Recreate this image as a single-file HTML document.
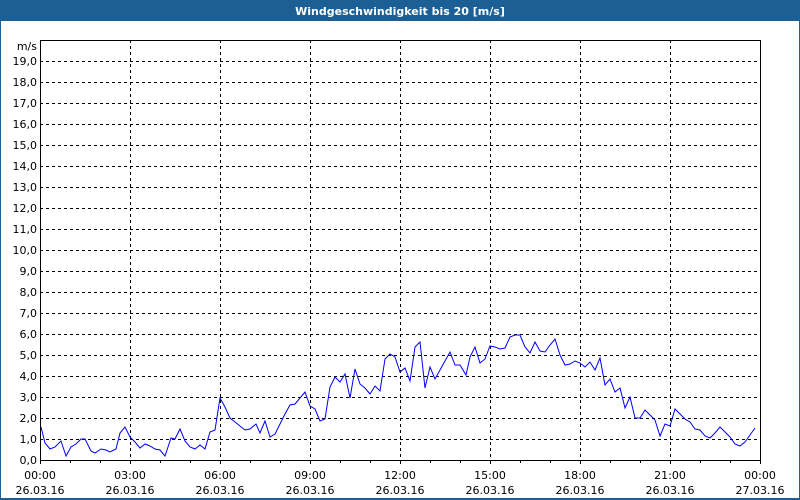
<!DOCTYPE html>
<html><head><style>
body{margin:0;width:800px;height:500px;overflow:hidden;background:#fff}
svg{display:block}
text{font-family:"DejaVu Sans","Liberation Sans",sans-serif;font-size:11px;fill:#000}
</style></head><body>
<svg width="800" height="500" xmlns="http://www.w3.org/2000/svg">
<rect x="0" y="0" width="800" height="500" fill="#1c5f94"/>
<rect x="1" y="21" width="798" height="477" fill="#fff"/>
<text x="400" y="15" text-anchor="middle" style="fill:#fff;font-weight:bold">Windgeschwindigkeit bis 20 [m/s]</text>
<g stroke="#000" stroke-width="1" stroke-dasharray="3,3" fill="none" shape-rendering="crispEdges">
<path d="M40 61.5H760M40 82.5H760M40 103.5H760M40 124.5H760M40 145.5H760M40 166.5H760M40 187.5H760M40 208.5H760M40 229.5H760M40 250.5H760M40 271.5H760M40 292.5H760M40 313.5H760M40 334.5H760M40 355.5H760M40 376.5H760M40 397.5H760M40 418.5H760M40 439.5H760"/>
<path d="M130.5 40V460M220.5 40V460M310.5 40V460M400.5 40V460M490.5 40V460M580.5 40V460M670.5 40V460"/>
</g>
<rect x="40.5" y="40.5" width="720" height="420" fill="none" stroke="#000" shape-rendering="crispEdges"/>
<g stroke="#000" shape-rendering="crispEdges">
<path d="M40.5 460v4M70.5 460v3M100.5 460v3M130.5 460v4M160.5 460v3M190.5 460v3M220.5 460v4M250.5 460v3M280.5 460v3M310.5 460v4M340.5 460v3M370.5 460v3M400.5 460v4M430.5 460v3M460.5 460v3M490.5 460v4M520.5 460v3M550.5 460v3M580.5 460v4M610.5 460v3M640.5 460v3M670.5 460v4M700.5 460v3M730.5 460v3M760.5 460v4"/>
</g>
<g text-anchor="end">
<text x="37" y="50">m/s</text>
<text x="37" y="65">19,0</text><text x="37" y="86">18,0</text><text x="37" y="107">17,0</text><text x="37" y="128">16,0</text><text x="37" y="149">15,0</text><text x="37" y="170">14,0</text><text x="37" y="191">13,0</text><text x="37" y="212">12,0</text><text x="37" y="233">11,0</text><text x="37" y="254">10,0</text><text x="37" y="275">9,0</text><text x="37" y="296">8,0</text><text x="37" y="317">7,0</text><text x="37" y="338">6,0</text><text x="37" y="359">5,0</text><text x="37" y="380">4,0</text><text x="37" y="401">3,0</text><text x="37" y="422">2,0</text><text x="37" y="443">1,0</text><text x="37" y="464">0,0</text>
</g>
<g text-anchor="middle">
<text x="40" y="479">00:00</text><text x="40" y="494">26.03.16</text>
<text x="130" y="479">03:00</text><text x="130" y="494">26.03.16</text>
<text x="220" y="479">06:00</text><text x="220" y="494">26.03.16</text>
<text x="310" y="479">09:00</text><text x="310" y="494">26.03.16</text>
<text x="400" y="479">12:00</text><text x="400" y="494">26.03.16</text>
<text x="490" y="479">15:00</text><text x="490" y="494">26.03.16</text>
<text x="580" y="479">18:00</text><text x="580" y="494">26.03.16</text>
<text x="670" y="479">21:00</text><text x="670" y="494">26.03.16</text>
<text x="760" y="479">00:00</text><text x="760" y="494">27.03.16</text>
</g>
<polyline fill="none" stroke="#0000ff" stroke-width="1" points="41,427 45,443 50,449 55,447 61,441 66,456 71,447 76,444 81,439 85,439 91,451 95,453 101,449 106,450 110,452 116,449 120,433 125,427 130,437 135,442 140,448 145,444 150,446 155,449 160,450 165,456 171,438 175,439 180,429 185,441 190,447 195,449 200,445 205,449 210,432 215,430 220,398 225,407 230,418 235,422 240,426 245,430 250,429 256,424 260,433 265,421 270,437 275,434 280,424 285,414 290,405 295,404 300,398 305,392 310,406 315,409 320,421 325,419 330,387 335,377 340,382 345,374 350,398 355,369 360,384 365,388 370,394 375,386 380,391 385,359 390,354 395,357 400,372 405,368 410,381 415,347 420,342 425,388 430,367 435,379 440,370 445,361 450,352 455,365 460,365 466,375 470,357 475,347 480,363 485,359 490,346 495,347 500,349 505,348 510,337 515,335 520,335 525,347 530,353 535,342 540,351 545,352 550,345 555,339 560,355 565,365 570,364 575,361 580,363 585,367 590,362 595,370 600,358 605,385 610,379 615,392 620,388 625,408 630,397 635,418 640,418 645,410 650,415 655,420 660,436 665,424 670,426 675,409 680,414 685,419 690,422 695,429 700,430 705,436 710,438 715,433 720,427 725,432 730,437 735,444 740,446 745,442 750,435 755,428"/>
</svg>
</body></html>
